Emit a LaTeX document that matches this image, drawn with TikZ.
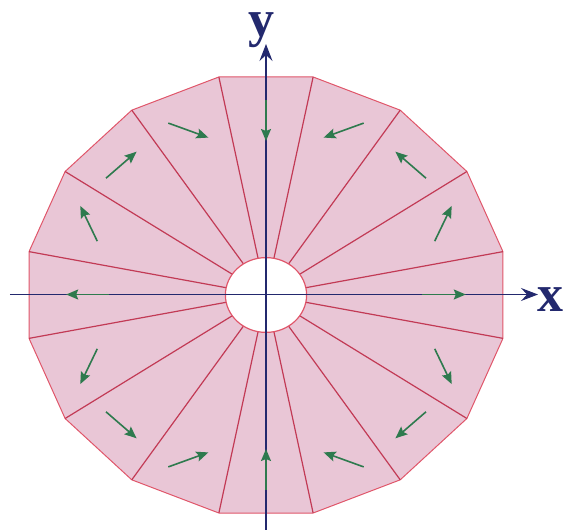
\documentclass[tikz,border=0pt]{standalone}
\usepackage{fontspec}
\setmainfont{Liberation Serif}
\usetikzlibrary{arrows.meta,calc}
\definecolor{pinkfill}{HTML}{E9C6D6}
\definecolor{edgered}{HTML}{E0566A}
\definecolor{spoke}{HTML}{C23A55}
\definecolor{navy}{HTML}{23296E}
\definecolor{vgreen}{HTML}{2E7A4E}
\begin{document}
\begin{tikzpicture}[x=1pt,y=1pt,
  outline/.style={draw=edgered,line width=1pt,fill=pinkfill,line join=round},
  spokeline/.style={draw=spoke,line width=1.2pt},
  holestyle/.style={draw=edgered,line width=1.2pt,fill=white},
  axis/.style={draw=navy,line width=1.1pt,-{Stealth[length=17pt,width=13pt,inset=6pt]}},
  vec/.style={draw=vgreen,line width=1.6pt,-{Stealth[length=12pt,width=10pt,inset=2pt]}},
  lbl/.style={text=navy,font=\fontsize{52}{58}\selectfont\bfseries,inner sep=0pt,anchor=base}]
\useasboundingbox (-266,-235) rectangle (300,295);
\coordinate (O) at (0,0);
\foreach \k in {0,...,15}{
  \coordinate (v\k) at ({241.6*cos(11.25+22.5*\k)},{222.3*sin(11.25+22.5*\k)});
  \coordinate (i\k) at ({40.6*cos(11.25+22.5*\k)},{37.4*sin(11.25+22.5*\k)});
}
\path[outline] (v0) \foreach \k in {1,...,15}{ -- (v\k)} -- cycle;
\foreach \k in {0,...,15} \draw[spokeline] (v\k) -- (i\k);
\path[holestyle] (O) ellipse [x radius=40.6pt, y radius=37.4pt];
% axes
\coordinate (xs) at (-256,0.5);
\coordinate (xe) at (272,0.5);
\coordinate (ys) at (0,-236);
\coordinate (ye) at (0,251);
\draw[axis] (xs) -- (xe);
\draw[axis] (ys) -- (ye);
\node[lbl] (xl) at (285,-17) {x};
\node[lbl] (yl) at (-4,258) {y};
% vector field arrows
\foreach \sx/\sy/\n in {1/1/a,-1/1/b,-1/-1/c,1/-1/d}{
  \coordinate (p1\n) at ({\sx*168.7},{\sy*53.8});
  \coordinate (q1\n) at ({\sx*185.7},{\sy*89.1});
  \coordinate (p2\n) at ({\sx*160},{\sy*116.8});
  \coordinate (q2\n) at ({\sx*129.4},{\sy*143.3});
  \coordinate (p3\n) at ({\sx*97.7},{\sy*171.9});
  \coordinate (q3\n) at ({\sx*57.6},{\sy*157.4});
  \draw[vec] (p1\n) -- (q1\n);
  \draw[vec] (p2\n) -- (q2\n);
  \draw[vec] (p3\n) -- (q3\n);
}
\coordinate (pr) at (156.5,0.5); \coordinate (qr) at (199.8,0.5);
\coordinate (pl) at (-156.5,0.5); \coordinate (ql) at (-199.8,0.5);
\coordinate (pt) at (0,195); \coordinate (qt) at (0,154);
\coordinate (pb) at (0,-195); \coordinate (qb) at (0,-154);
\draw[vec] (pr) -- (qr);
\draw[vec] (pl) -- (ql);
\draw[vec] (pt) -- (qt);
\draw[vec] (pb) -- (qb);
\end{tikzpicture}
\end{document}
